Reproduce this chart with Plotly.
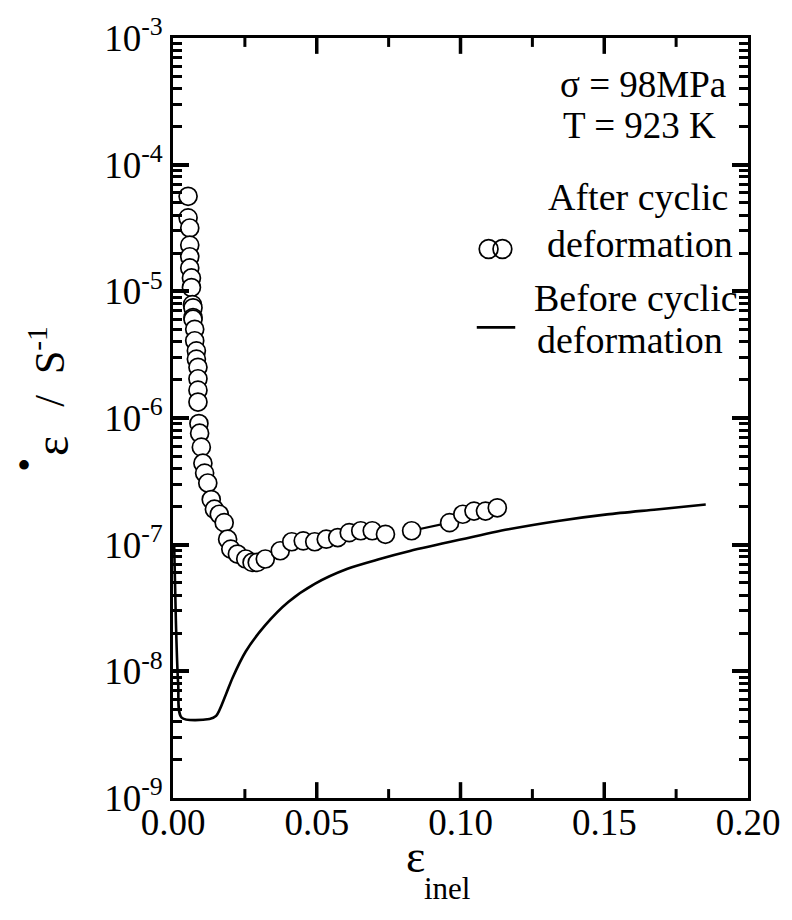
import plotly.graph_objects as go

# Creep rate after cyclic deformation (open circles)
after_strain = [0.00525, 0.00525, 0.00583, 0.00583, 0.00583, 0.00583, 0.00641, 0.00641,
                0.00676, 0.00696, 0.00696, 0.00696, 0.00755, 0.00755, 0.00813, 0.00813,
                0.00868, 0.00868, 0.00868, 0.00868, 0.00902, 0.00926, 0.00985, 0.0104,
                0.0110, 0.0121, 0.0133, 0.0144, 0.0161, 0.0178, 0.0190, 0.0201,
                0.0224, 0.0253, 0.0275, 0.0293, 0.0321, 0.0373, 0.0413, 0.0453,
                0.0493, 0.0533, 0.0573, 0.0613, 0.0653, 0.0693, 0.0739, 0.0830,
                0.0962, 0.1008, 0.1047, 0.1087, 0.1128]
after_log_rate = [-4.25, -4.42, -4.50, -4.635, -4.727, -4.815, -4.894, -4.97,
                  -5.105, -5.13, -5.207, -5.22, -5.30, -5.39, -5.47, -5.535,
                  -5.60, -5.69, -5.78, -5.874, -6.044, -6.12, -6.23, -6.357,
                  -6.435, -6.513, -6.644, -6.72, -6.76, -6.826, -6.957, -7.035,
                  -7.074, -7.113, -7.14, -7.14, -7.113, -7.048, -6.977, -6.97,
                  -6.977, -6.957, -6.944, -6.905, -6.89, -6.89, -6.918, -6.89,
                  -6.826, -6.76, -6.735, -6.735, -6.709]
after_rate = [10 ** v for v in after_log_rate]

# Creep rate before cyclic deformation (solid curve)
before_strain = [0.0004, 0.0010, 0.0018, 0.0030, 0.0127, 0.0150, 0.0184, 0.0207,
                 0.0253, 0.0321, 0.0401, 0.0493, 0.0607, 0.0716, 0.0824, 0.0996,
                 0.1167, 0.1339, 0.1510, 0.1682, 0.1853]
before_log_rate = [-7.0, -7.6, -8.1, -8.365, -8.376, -8.352, -8.182, -8.052,
                   -7.843, -7.635, -7.452, -7.309, -7.19, -7.115, -7.05, -6.962,
                   -6.879, -6.813, -6.761, -6.722, -6.683]
before_rate = [10 ** v for v in before_log_rate]

x_major = [0.00, 0.05, 0.10, 0.15, 0.20]
x_ticktext = ["0.00", "0.05", "0.10", "0.15", "0.20"]
x_minor = [0.025, 0.075, 0.125, 0.175]
y_exponents = [-9, -8, -7, -6, -5, -4, -3]

FONT = "Liberation Serif"
FS = 37

L, R, T, B = 173, 756, 31, 798
PW, PH = R - L, B - T
Y_LOG_MIN, Y_LOG_MAX = -9, -3
DECADE_PX = PH / (Y_LOG_MAX - Y_LOG_MIN)

fig = go.Figure()

# inward ticks along the bottom and top edges (drawn in axis units)
tick_x, tick_y, minor_x, minor_y = [], [], [], []
for xs, ys, xv_list, ln in ((tick_x, tick_y, x_major[1:-1], 16),
                            (minor_x, minor_y, x_minor, 9)):
    d = ln / DECADE_PX
    for xv in xv_list:
        xs += [xv, xv, None, xv, xv, None]
        ys += [10 ** Y_LOG_MIN, 10 ** (Y_LOG_MIN + d), None,
               10 ** Y_LOG_MAX, 10 ** (Y_LOG_MAX - d), None]
fig.add_trace(go.Scatter(x=tick_x, y=tick_y, mode="lines", cliponaxis=False,
                         line=dict(color="black", width=3.5),
                         showlegend=False, hoverinfo="skip"))
fig.add_trace(go.Scatter(x=minor_x, y=minor_y, mode="lines", cliponaxis=False,
                         line=dict(color="black", width=3),
                         showlegend=False, hoverinfo="skip"))

fig.add_trace(go.Scatter(
    x=before_strain, y=before_rate, mode="lines",
    line=dict(color="black", width=2.6, shape="spline", smoothing=0.8),
    showlegend=False, hoverinfo="skip"))

# short connector between the two isolated points
fig.add_trace(go.Scatter(
    x=after_strain[-6:-4], y=after_rate[-6:-4], mode="lines",
    line=dict(color="black", width=2.2), showlegend=False, hoverinfo="skip"))

fig.add_trace(go.Scatter(
    x=after_strain, y=after_rate, mode="markers",
    marker=dict(symbol="circle", size=18, color="white",
                line=dict(color="black", width=1.7)),
    showlegend=False))

tick_style = dict(ticks="inside", ticklen=16, tickwidth=3.5, tickcolor="black")
minor_style = dict(ticks="inside", ticklen=9, tickwidth=3, tickcolor="black",
                   showgrid=False)

fig.update_layout(
    width=792, height=920,
    margin=dict(l=L, r=792 - R, t=T, b=920 - B),
    paper_bgcolor="white", plot_bgcolor="white",
    font=dict(family=FONT, size=FS, color="black"),
    showlegend=False,
    xaxis=dict(
        range=[0, 0.2], tickmode="array", tickvals=x_major, ticktext=x_ticktext,
        ticks="", ticklabelstandoff=-10,
        showline=True, linewidth=2.6, linecolor="black", mirror=True,
        showgrid=False, zeroline=False,
        tickfont=dict(family=FONT, size=FS),
    ),
    yaxis=dict(
        type="log", range=[Y_LOG_MIN, Y_LOG_MAX], tickmode="array",
        tickvals=[10.0 ** e for e in y_exponents],
        ticktext=["10<sup>%d</sup>" % e for e in y_exponents],
        showline=True, linewidth=2.6, linecolor="black", mirror="allticks",
        showgrid=False, zeroline=False,
        tickfont=dict(family=FONT, size=FS),
        minor=dict(dtick="D1", **minor_style),
        **tick_style,
    ),
)

def paper_text(text, x, y, size=FS, angle=0):
    fig.add_annotation(text=text, xref="paper", yref="paper",
                       x=x, y=y, showarrow=False, textangle=angle,
                       xanchor="center", yanchor="middle",
                       font=dict(family=FONT, size=size, color="black"))

def px(xp):
    return (xp - L) / PW

def py(yp):
    return (B - yp) / PH

# test conditions
paper_text("σ = 98MPa", px(650), py(78), size=37)
paper_text("T = 923 K", px(646), py(119), size=37)

# key
paper_text("After cyclic", px(644), py(191), size=38)
paper_text("deformation", px(647), py(239), size=38)
paper_text("Before cyclic", px(642), py(293), size=38)
paper_text("deformation", px(636), py(336), size=38)

for cx in (493, 507):
    fig.add_shape(type="circle", xref="paper", yref="paper",
                  x0=px(cx - 9.5), x1=px(cx + 9.5), y0=py(244 + 9.5), y1=py(244 - 9.5),
                  line=dict(color="black", width=1.7), fillcolor="rgba(0,0,0,0)")
fig.add_shape(type="line", xref="paper", yref="paper",
              x0=px(481), x1=px(520), y0=py(323), y1=py(323),
              line=dict(color="black", width=2.6))

# axis titles
paper_text("ε", px(419), py(857), size=46)
paper_text("inel", px(451), py(889), size=31)
paper_text("ε", px(50), py(443), size=48, angle=-90)
paper_text("/\u00a0\u00a0S<sup>-1</sup>", px(46), py(362), size=42, angle=-90)
paper_text("•", px(22), py(462), size=40)

fig.write_html("out.html")
